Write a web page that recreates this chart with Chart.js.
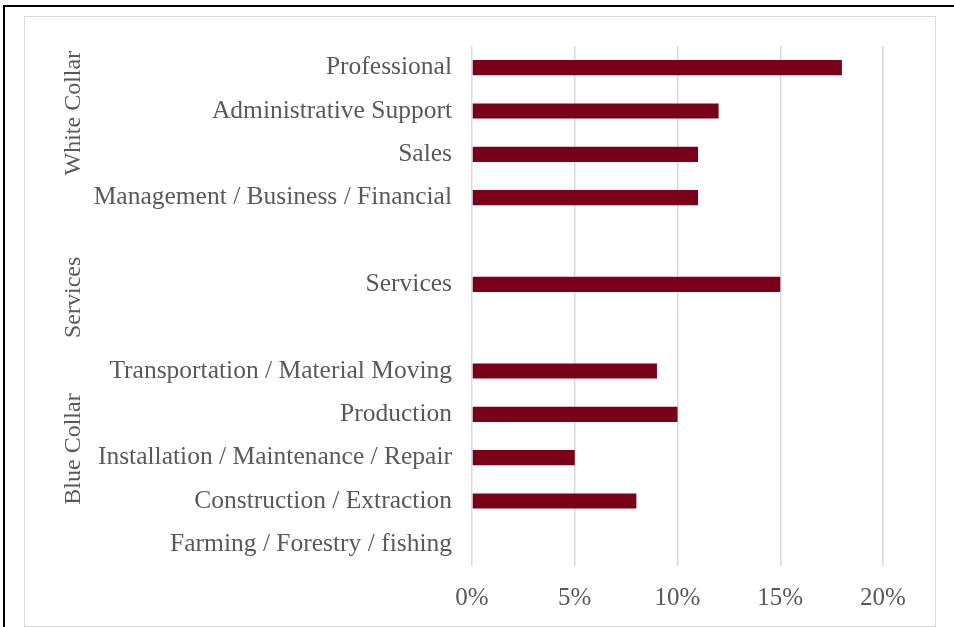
<!DOCTYPE html>
<html>
<head>
<meta charset="utf-8">
<script src="https://cdn.jsdelivr.net/npm/chart.js@4"></script>
<style>
  html, body { margin: 0; padding: 0; background: #fff; }
  body { width: 954px; height: 627px; overflow: hidden; position: relative; }
  #frame { position: absolute; left: 3px; top: 5px; width: 980px; height: 660px;
           border-top: 2px solid #000; border-left: 2px solid #000; }
  #box { position: absolute; left: 24px; top: 16px; width: 910px; height: 609px;
         border: 1px solid #d9d9d9; }
  #box canvas { display: block; }
</style>
</head>
<body>
<div id="frame"></div>
<div id="box"><canvas id="occChart" width="910" height="609"></canvas></div>
<script>
// occupations, top to bottom; empty strings are spacer rows between groups
const occupations = [
  'Professional',
  'Administrative Support',
  'Sales',
  'Management / Business / Financial',
  '',
  'Services',
  '',
  'Transportation / Material Moving',
  'Production',
  'Installation / Maintenance / Repair',
  'Construction / Extraction',
  'Farming / Forestry / fishing'
];

// share of workers, percent
const shares = [18, 12, 11, 11, null, 15, null, 9, 10, 5, 8, 0];

const xTicks = [0, 5, 10, 15, 20];

// group names and where they sit along the category axis (row index)
const groupNames = ['White Collar', 'Services', 'Blue Collar'];
const groupAt = [1.05, 5.3, 8.8];

const FONT = 'Liberation Serif';
const TEXT = '#595959';

// draws the rotated group names to the left of the category labels
const groupLabels = {
  id: 'groupLabels',
  afterDraw(chart) {
    const ctx = chart.ctx;
    const y = chart.scales.y;
    ctx.save();
    ctx.fillStyle = TEXT;
    ctx.font = '24px "' + FONT + '"';
    ctx.textAlign = 'center';
    ctx.textBaseline = 'middle';
    groupNames.forEach((name, i) => {
      ctx.save();
      ctx.translate(49, y.getPixelForValue(groupAt[i]));
      ctx.rotate(-Math.PI / 2);
      ctx.fillText(name, 0, 0);
      ctx.restore();
    });
    ctx.restore();
  }
};

const ctx = document.getElementById('occChart').getContext('2d');
new Chart(ctx, {
  type: 'bar',
  data: {
    labels: occupations,
    datasets: [{
      data: shares,
      backgroundColor: '#7a0019',
      borderWidth: 0,
      categoryPercentage: 1,
      barPercentage: 0.35
    }]
  },
  options: {
    indexAxis: 'y',
    responsive: false,
    animation: false,
    layout: { padding: { top: 29, right: 52, bottom: 0, left: 0 } },
    plugins: {
      legend: { display: false },
      tooltip: { enabled: false }
    },
    scales: {
      x: {
        min: 0,
        max: 20,
        afterBuildTicks: s => { s.ticks = xTicks.map(v => ({ value: v })); },
        ticks: {
          callback: v => v + '%',
          color: TEXT,
          font: { family: FONT, size: 25 },
          padding: 17
        },
        grid: { color: '#d9d9d9', lineWidth: 1.5, drawTicks: false },
        border: { display: false },
        afterFit: s => { s.height = 60; }
      },
      y: {
        grid: { display: false, drawTicks: false },
        border: { display: false },
        ticks: {
          autoSkip: false,
          color: TEXT,
          font: { family: FONT, size: 25.5 },
          padding: 20
        },
        afterFit: s => {
          s.width = 447;
          s.paddingTop = 0;
          s.paddingBottom = 0;
        }
      }
    }
  },
  plugins: [groupLabels]
});
</script>
</body>
</html>
